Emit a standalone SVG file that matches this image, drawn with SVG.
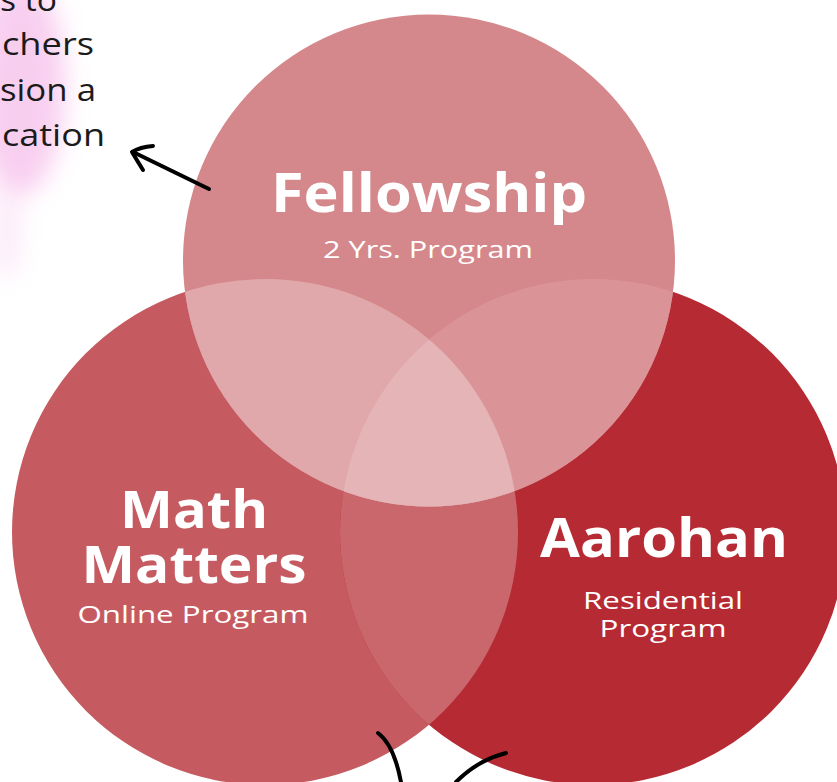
<svg xmlns="http://www.w3.org/2000/svg" width="837" height="782" viewBox="0 0 837 782">
<defs>
<style>
.t{font-family:"Open Sans","Liberation Sans",sans-serif;fill:#ffffff;text-anchor:middle}
.b{font-weight:700}
.s{font-weight:400;font-size:24px}
.side{font-family:"Open Sans","Liberation Sans",sans-serif;font-size:31px;fill:#1b1b1b}
.ink{fill:none;stroke:#000;stroke-width:4;stroke-linecap:round;stroke-linejoin:round}
</style>
<filter id="blur" x="-1" y="-1" width="3" height="3"><feGaussianBlur stdDeviation="12"/></filter>
<clipPath id="cM"><circle cx="265" cy="532" r="253"/></clipPath>
<clipPath id="cA"><circle cx="593" cy="532" r="253"/></clipPath>
</defs>
<rect width="837" height="782" fill="#ffffff"/>
<g id="wash">
<ellipse cx="20" cy="85" rx="45" ry="110" fill="#f7c3ec" opacity="0.8" filter="url(#blur)"/>
<ellipse cx="6" cy="230" rx="16" ry="50" fill="#f8d0f0" opacity="0.4" filter="url(#blur)"/>
</g>
<g id="side-text">
<text class="side" x="0" y="11" textLength="57" lengthAdjust="spacingAndGlyphs">s to</text>
<text class="side" x="2" y="55" textLength="92" lengthAdjust="spacingAndGlyphs">chers</text>
<text class="side" x="0" y="101" textLength="96" lengthAdjust="spacingAndGlyphs">sion a</text>
<text class="side" x="2" y="146" textLength="103" lengthAdjust="spacingAndGlyphs">cation</text>
</g>
<g id="math-matters">
<circle cx="265" cy="532" r="253" fill="#c55b61"/>
</g>
<g id="aarohan">
<circle cx="593" cy="532" r="253" fill="#b52a33"/>
<circle cx="593" cy="532" r="253" fill="#c9676d" clip-path="url(#cM)"/>
</g>
<g id="fellowship">
<circle cx="429" cy="260.5" r="246" fill="#d5888b"/>
<circle cx="429" cy="260.5" r="246" fill="#e0a8ab" clip-path="url(#cM)"/>
<circle cx="429" cy="260.5" r="246" fill="#da9396" clip-path="url(#cA)"/>
<g clip-path="url(#cM)"><circle cx="429" cy="260.5" r="246" fill="#e4b4b7" clip-path="url(#cA)"/></g>
</g>
<g id="labels">
<text class="t b" x="429" y="212" font-size="54" textLength="316" lengthAdjust="spacingAndGlyphs">Fellowship</text>
<text class="t s" x="428" y="258" textLength="210" lengthAdjust="spacingAndGlyphs">2 Yrs. Program</text>
<text class="t b" x="194" y="528" font-size="52" textLength="148" lengthAdjust="spacingAndGlyphs">Math</text>
<text class="t b" x="194" y="583" font-size="52" textLength="225" lengthAdjust="spacingAndGlyphs">Matters</text>
<text class="t s" x="193" y="623" textLength="231" lengthAdjust="spacingAndGlyphs">Online Program</text>
<text class="t b" x="664" y="557" font-size="53" textLength="248" lengthAdjust="spacingAndGlyphs">Aarohan</text>
<text class="t s" x="663" y="609" font-size="23" textLength="160" lengthAdjust="spacingAndGlyphs">Residential</text>
<text class="t s" x="663" y="637" font-size="23" textLength="127" lengthAdjust="spacingAndGlyphs">Program</text>
</g>
<g id="connectors">
<path class="ink" d="M209,189 L133,152"/>
<path class="ink" d="M153,146 Q140,147 132,152 Q138,162 143,170"/>
<path class="ink" d="M378,733 Q394,745 401,782"/>
<path class="ink" d="M506,753 Q478,760 456,782"/>
</g>
</svg>
